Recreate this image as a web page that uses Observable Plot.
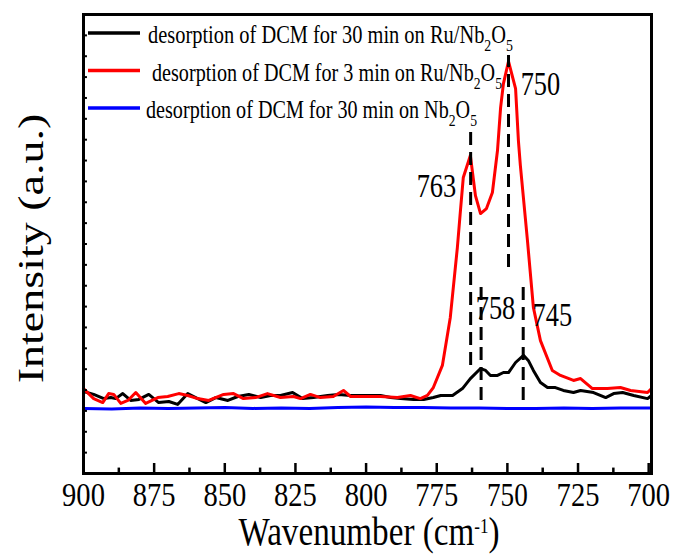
<!DOCTYPE html>
<html><head><meta charset="utf-8">
<script src="https://cdn.jsdelivr.net/npm/d3@7"></script>
<script src="https://cdn.jsdelivr.net/npm/@observablehq/plot@0.6"></script>
<style>body{margin:0;background:#fff}#chart{width:675px;height:556px}</style>
</head><body><div id="chart"></div>
<script>
// ---- data (wavenumber cm-1, intensity a.u.) ----
const redW = [900,896.4,893.2,891.1,889.3,886.8,884.3,881.5,878.0,873.7,870.2,866.3,863.1,859.6,855.7,850.4,846.9,843.4,839.1,834.9,830.3,825.7,823.2,819.7,816.2,811.6,808.0,805.5,800.9,794.9,788.9,784.3,780.8,778.3,776.2,773.0,770.2,767.7,766.7,765.6,763.1,761.3,759.5,757.4,755.3,753.5,752.4,751.4,749.6,747.1,746.1,745.4,742.9,740.8,738.3,734.1,731.2,726.6,724.1,719.9,714.6,710.0,706.4,700.4,699];
const redI = [4.07,3.59,3.40,3.83,3.79,3.36,3.50,3.88,3.36,3.64,3.69,3.83,3.74,3.59,3.50,3.79,3.83,3.59,3.64,3.83,3.64,3.69,3.59,3.79,3.64,3.69,3.98,3.69,3.69,3.69,3.64,3.74,3.59,3.74,4.12,5.18,7.48,10.83,12.46,14.19,15.24,13.32,12.46,12.70,13.47,15.48,17.54,18.69,19.75,18.45,15.96,14.76,11.17,7.96,6.37,4.94,4.70,4.46,4.55,4.07,4.07,4.12,3.98,3.88,4.07];
const blackW = [900,896.4,892.8,890.3,888.6,886.1,883.3,880.4,876.9,873.4,869.8,866.7,863.1,860.3,856.7,853.2,848.9,845.4,841.5,837.3,833.8,830.3,826.0,822.5,818.6,813.6,809.7,805.5,799.5,794.9,791.3,787.8,783.2,779.6,776.2,773.6,769.4,765.9,763.1,759.5,757.7,756.0,753.5,751.4,749.6,747.1,744.3,742.6,740.8,738.3,735.8,733.0,730.2,726.6,724.1,719.5,715.2,712.4,709.2,705.3,700.4,699];
const blackI = [3.93,3.79,3.59,3.64,3.59,3.83,3.50,3.55,3.79,3.40,3.45,3.31,3.83,3.64,3.40,3.64,3.50,3.69,3.79,3.64,3.74,3.74,3.88,3.59,3.64,3.74,3.79,3.74,3.74,3.74,3.64,3.59,3.55,3.55,3.64,3.74,3.74,4.07,4.55,5.03,4.94,4.70,4.70,4.84,4.84,5.32,5.66,5.42,4.94,4.36,4.12,4.12,3.98,3.88,3.98,3.88,3.64,3.83,3.88,3.74,3.59,3.74];
const blueW = [900,890,880,870,860,850,840,830,820,810,800,790,780,770,760,750,740,730,720,710,699];
const blueI = [3.12,3.09,3.14,3.12,3.14,3.16,3.12,3.14,3.12,3.16,3.19,3.16,3.16,3.14,3.14,3.12,3.12,3.14,3.12,3.14,3.14];

const seriesNames = ["desorption of DCM for 30 min on Ru/Nb2O5","desorption of DCM for 3 min on Ru/Nb2O5","desorption of DCM for 30 min on Nb2O5"];
const seriesColors = ["#000000","#ff0000","#0000ff"];

// dashed peak markers
const peakLineX = [763, 749.6, 759.3, 744.4];
const peakLineTop = [16.58, 20.04, 9.11, 8.92];
const peakLineBottom = [5.18, 9.87, 3.50, 3.50];
// peak labels
const peakLabels = ["763","750","758","745"];
const peakLabelX = [775.1, 738.3, 754.2, 734.1];
const peakLabelY = [13.76, 18.64, 7.91, 7.57];

const xMajorTicks = [900,875,850,825,800,775,750,725,700];
const xMinorTicks = [887.5,862.5,837.5,812.5,787.5,762.5,737.5,712.5];
const yTicks = d3.range(1, 22);

// ---- tables ----
const red = redW.map((w,i)=>({w, v: redI[i]}));
const black = blackW.map((w,i)=>({w, v: blackI[i]}));
const blue = blueW.map((w,i)=>({w, v: blueI[i]}));
const dashes = peakLineX.map((x,i)=>({x, y1: peakLineBottom[i], y2: peakLineTop[i]}));
const labels = peakLabels.map((t,i)=>({t, x: peakLabelX[i], y: peakLabelY[i]}));

const serif = "'Liberation Serif','Times New Roman',serif";

const chart = Plot.plot({
  width: 675, height: 556,
  marginLeft: 83, marginRight: 24, marginTop: 14, marginBottom: 83,
  style: {fontFamily: serif, fontSize: "34px", background: "white", color: "black"},
  x: {domain: [900, 699], ticks: xMajorTicks, tickSize: 0, tickPadding: 8, tickFormat: d => String(d), label: null},
  y: {domain: [0, 22], axis: null},
  marks: [
    Plot.line(blue, {x: "w", y: "v", stroke: seriesColors[2], strokeWidth: 3}),
    Plot.line(black, {x: "w", y: "v", stroke: seriesColors[0], strokeWidth: 3}),
    Plot.line(red, {x: "w", y: "v", stroke: seriesColors[1], strokeWidth: 3}),
    Plot.ruleX(dashes, {x: "x", y1: "y1", y2: "y2", stroke: "black", strokeWidth: 3, strokeDasharray: "13,7"}),
    Plot.text(labels, {x: "x", y: "y", text: "t", fontSize: 33, fill: "black"}),
    Plot.ruleX(xMajorTicks, {x: d => d, y1: 0, y2: 0.48, stroke: "black", strokeWidth: 2.5}),
    Plot.ruleX(xMinorTicks, {x: d => d, y1: 0, y2: 0.26, stroke: "black", strokeWidth: 2.5}),
    Plot.ruleY(yTicks, {y: d => d, x1: 900, x2: 898.6, stroke: "black", strokeWidth: 2}),
    Plot.frame({stroke: "black", strokeWidth: 3})
  ]
});
document.getElementById("chart").append(chart);

function squeeze(el, c) {
  const L = el.getComputedTextLength();
  el.setAttribute("textLength", L * c);
  el.setAttribute("lengthAdjust", "spacingAndGlyphs");
}
const svg = d3.select(chart);
svg.selectAll("text").each(function() {
  squeeze(this, peakLabels.includes(this.textContent.trim()) ? 0.8 : 0.84);
});

const xs = chart.scale("x"), ys = chart.scale("y");
const xc = (xs.range[0] + xs.range[1]) / 2;
const yc = (ys.range[0] + ys.range[1]) / 2;
const bottom = ys.range[0];

// x title with superscript
const xt = svg.append("text").attr("x", xc + 2).attr("y", bottom + 72)
  .attr("text-anchor", "middle").style("font-family", serif).style("font-size", "39px").attr("fill", "black");
xt.append("tspan").text("Wavenumber (cm");
xt.append("tspan").attr("dy", -12).style("font-size", "20px").text("-1");
xt.append("tspan").attr("dy", 12).text(")");
squeeze(xt.node(), 0.85);

// y title (rotated, compressed across)
svg.append("text").attr("transform", `translate(31,${yc + 5}) rotate(-90) scale(1,0.8)`)
  .attr("text-anchor", "middle").attr("dy", "0.33em")
  .style("font-family", serif).style("font-size", "46px").attr("fill", "black")
  .text("Intensity (a.u.)");

// legend
const lg = svg.append("g").style("font-family", serif).style("font-size", "25px").attr("text-anchor", "start");
const legendTextX = [148, 152, 146];
const legendTextW = [365, 350, 331];
seriesNames.forEach((name, i) => {
  const y = 33 + i * 37.5;
  lg.append("line").attr("x1", 88).attr("x2", 140).attr("y1", y).attr("y2", y)
    .attr("stroke", seriesColors[i]).attr("stroke-width", 3.5);
  const t = lg.append("text").attr("x", legendTextX[i]).attr("y", y + 10)
    .attr("text-anchor", "start").attr("fill", "black");
  const m = name.match(/^(.*Nb)2O5$/);
  t.append("tspan").text(m[1]);
  t.append("tspan").attr("dy", 8).style("font-size", "17px").text("2");
  t.append("tspan").attr("dy", -8).text("O");
  t.append("tspan").attr("dy", 8).style("font-size", "17px").text("5");
  t.attr("textLength", legendTextW[i]).attr("lengthAdjust", "spacingAndGlyphs");
});
</script>
</body></html>
